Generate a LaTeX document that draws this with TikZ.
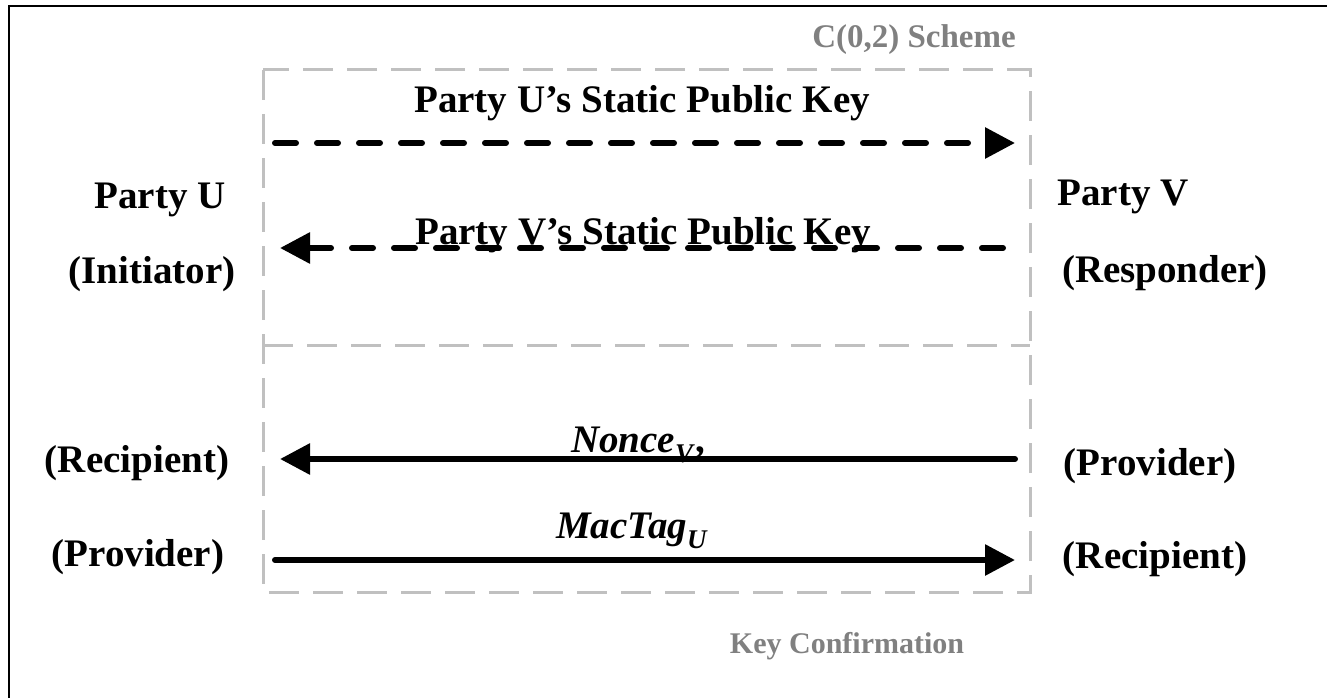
\documentclass[tikz,border=0pt]{standalone}
\usepackage{fontspec}
\setmainfont{Liberation Serif}
\usetikzlibrary{arrows.meta}
\definecolor{boxgray}{HTML}{C0C0C0}
\definecolor{txtgray}{HTML}{808080}
\tikzset{
  lbl/.style={anchor=base, inner sep=0pt, font=\fontsize{39}{41}\selectfont\bfseries},
  glbl/.style={anchor=base, inner sep=0pt, text=txtgray, font=\fontsize{33}{35}\selectfont\bfseries},
  dmsg/.style={line width=6pt, line cap=round, dash pattern=on 21pt off 21pt, -{Triangle[length=30pt,width=30pt]}},
  smsg/.style={line width=6pt, line cap=round, -{Triangle[length=30pt,width=30pt]}},
  gbox/.style={draw=boxgray, line width=3pt, dash pattern=on 30pt off 14pt}
}
\newcommand{\sub}[1]{\raisebox{-0.28em}{\fontsize{27}{27}\selectfont\textit{#1}}}
\begin{document}
\begin{tikzpicture}[x=1pt,y=-1pt]
\useasboundingbox (0,0) rectangle (1327,698);
% outer frame (cropped at right and bottom)
\draw[line width=2pt] (9,698) -- (9,6) -- (1327,6);
% gray dashed box with divider
\draw[gbox] (263,70) rectangle (1030,592);
\draw[gbox] (263,345) -- (1030,345);
% labels
\node[glbl] (scheme) at (914,48) {C(0,2) Scheme};
\node[glbl, font=\fontsize{30}{32}\selectfont\bfseries] (kc) at (847,653) {Key Confirmation};
\node[lbl] (pu) at (160,208) {Party U};
\node[lbl] (ini) at (152,283) {(Initiator)};
\node[lbl] (pv) at (1123,205) {Party V};
\node[lbl] (res) at (1165,282) {(Responder)};
\node[lbl] (recl) at (137,472) {(Recipient)};
\node[lbl] (provl) at (138,566) {(Provider)};
\node[lbl] (provr) at (1150,475) {(Provider)};
\node[lbl] (recr) at (1155,568) {(Recipient)};
\node[lbl] (m1) at (642,113) {Party U’s Static Public Key};
\node[lbl] (m2) at (643,244) {Party V’s Static Public Key};
\node[lbl] (m3) at (638,452) {\textit{Nonce}\sub{V},};
\node[lbl] (m4) at (632,538) {\textit{MacTag}\sub{U}};
% endpoints
\coordinate (a1s) at (275,143);
\coordinate (a1e) at (1015,143);
\coordinate (a2s) at (1003,248);
\coordinate (a2e) at (280,248);
\coordinate (a3s) at (1015,459);
\coordinate (a3e) at (280,459);
\coordinate (a4s) at (275,560);
\coordinate (a4e) at (1015,560);
\draw[dmsg] (a1s) -- (a1e);
\draw[dmsg] (a2s) -- (a2e);
\draw[smsg] (a3s) -- (a3e);
\draw[smsg] (a4s) -- (a4e);
\end{tikzpicture}
\end{document}
